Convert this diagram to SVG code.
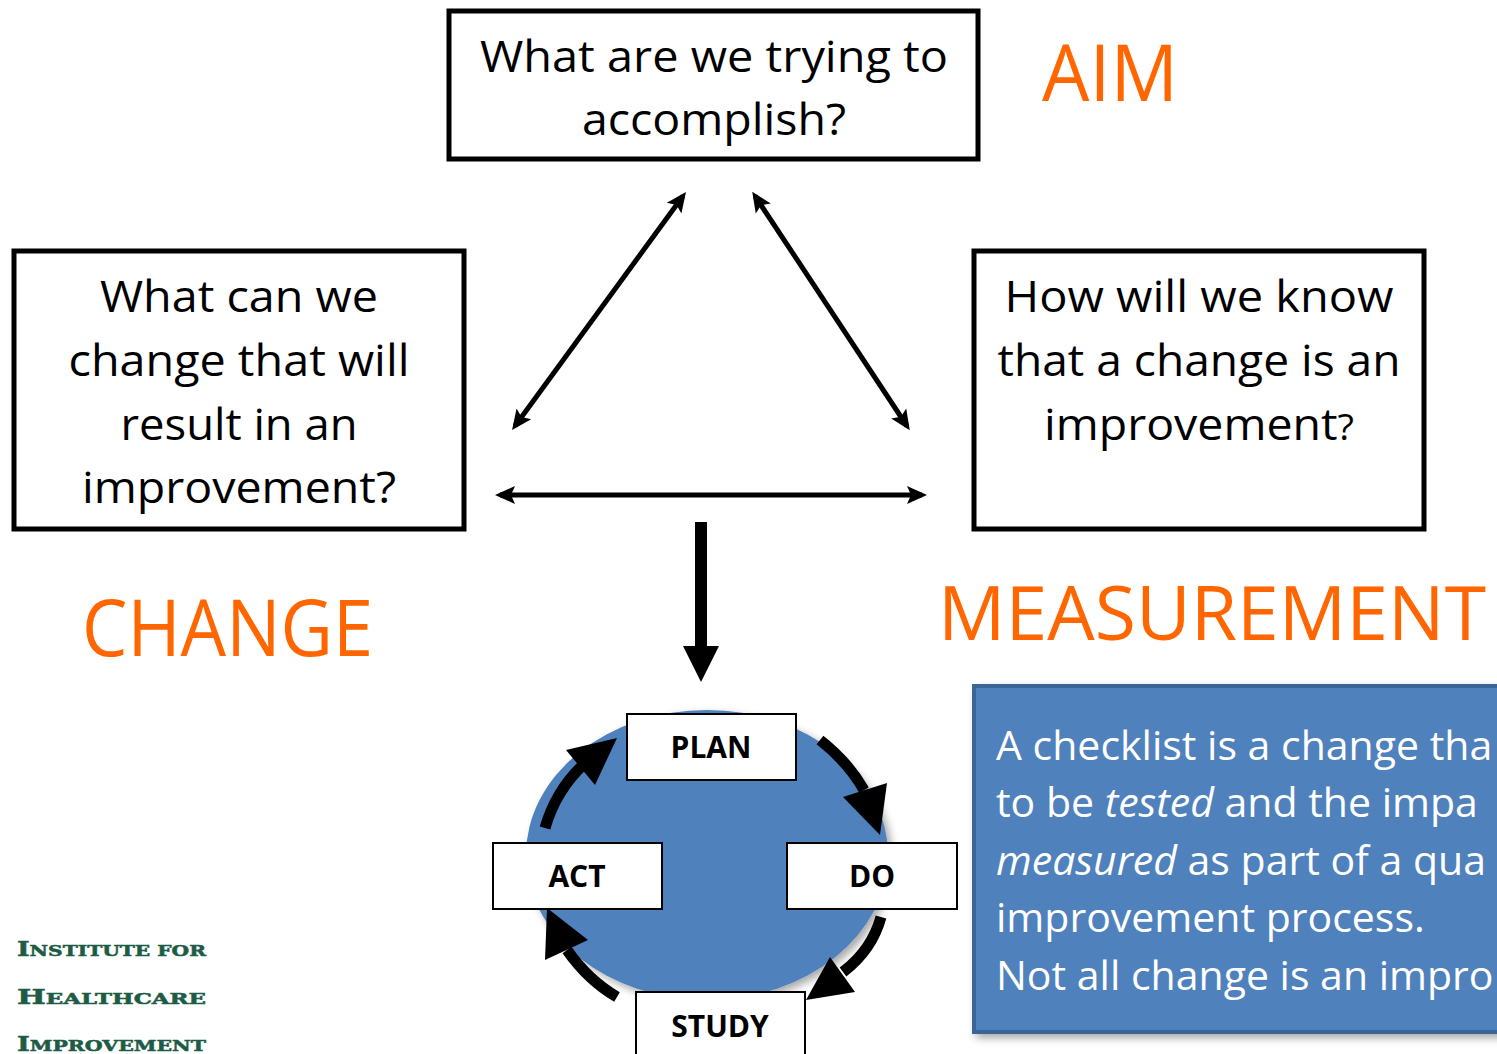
<svg xmlns="http://www.w3.org/2000/svg" width="1497" height="1054" viewBox="0 0 1497 1054">
<style>
.q{font-family:"Open Sans","Liberation Sans",sans-serif;font-size:44px;fill:#000;text-anchor:middle}
.big{font-family:"Open Sans","Liberation Sans",sans-serif;font-size:78px;fill:#FF6600}
.box{fill:#fff;stroke:#000;stroke-width:5}
.pbox{fill:#fff;stroke:#000;stroke-width:2}
.pl{font-family:"Open Sans","Liberation Sans",sans-serif;font-size:30px;font-weight:bold;fill:#000;text-anchor:middle}
.bt{font-family:"Open Sans","Liberation Sans",sans-serif;font-size:41px;fill:#fff}
.logo{font-family:"DejaVu Serif","Liberation Serif",serif;font-size:20px;font-weight:bold;fill:#1E5B45;stroke:#1E5B45;stroke-width:0.5}
.sc{font-size:15px}
.conn{stroke:#000;stroke-width:5;fill:none}
.arc{stroke:#000;stroke-width:11;fill:none}
</style>
<defs>
<marker id="ah" viewBox="0 0 20 20" refX="15" refY="10" markerWidth="20" markerHeight="20" markerUnits="userSpaceOnUse" orient="auto-start-reverse">
<path d="M0,1 L20,10 L0,19 L4,10 Z" fill="#000"/>
</marker>
<filter id="sh" x="-20%" y="-20%" width="140%" height="140%">
<feGaussianBlur in="SourceAlpha" stdDeviation="4"/>
<feOffset dx="4" dy="4" result="b"/>
<feComponentTransfer><feFuncA type="linear" slope="0.35"/></feComponentTransfer>
<feMerge><feMergeNode/><feMergeNode in="SourceGraphic"/></feMerge>
</filter>
</defs>
<rect width="1497" height="1054" fill="#fff"/>

<g id="aim-box">
<rect class="box" x="449" y="11" width="529" height="148"/>
<text class="q" x="714" y="72" textLength="468" lengthAdjust="spacingAndGlyphs">What are we trying to</text>
<text class="q" x="714" y="135" textLength="264" lengthAdjust="spacingAndGlyphs">accomplish?</text>
</g>
<g id="aim-label"><text class="big" x="1042" y="101" textLength="136" lengthAdjust="spacingAndGlyphs">AIM</text></g>

<g id="change-box">
<rect class="box" x="14" y="251" width="450" height="278"/>
<text class="q" x="239" y="312" textLength="278" lengthAdjust="spacingAndGlyphs">What can we</text>
<text class="q" x="239" y="376" textLength="341" lengthAdjust="spacingAndGlyphs">change that will</text>
<text class="q" x="239" y="440" textLength="237" lengthAdjust="spacingAndGlyphs">result in an</text>
<text class="q" x="239" y="503" textLength="314" lengthAdjust="spacingAndGlyphs">improvement?</text>
</g>
<g id="change-label"><text class="big" x="82" y="656" textLength="291" lengthAdjust="spacingAndGlyphs">CHANGE</text></g>

<g id="measure-box">
<rect class="box" x="974" y="251" width="450" height="278"/>
<text class="q" x="1199" y="312" textLength="389" lengthAdjust="spacingAndGlyphs">How will we know</text>
<text class="q" x="1199" y="376" textLength="403" lengthAdjust="spacingAndGlyphs">that a change is an</text>
<text class="q" x="1199" y="440" textLength="310" lengthAdjust="spacingAndGlyphs">improvement<tspan font-size="36">?</tspan></text>
</g>
<g id="measure-label"><text class="big" x="938" y="640" font-size="75" style="font-size:75px" textLength="548" lengthAdjust="spacingAndGlyphs">MEASUREMENT</text></g>

<g id="connectors">
<line class="conn" x1="515" y1="426" x2="683" y2="196" marker-start="url(#ah)" marker-end="url(#ah)"/>
<line class="conn" x1="755" y1="196" x2="907" y2="426" marker-start="url(#ah)" marker-end="url(#ah)"/>
<line class="conn" x1="500" y1="495" x2="922" y2="495" marker-start="url(#ah)" marker-end="url(#ah)"/>
<rect x="695" y="522" width="12" height="126" fill="#000"/>
<polygon points="683,646 719,646 701,682" fill="#000"/>
</g>

<g id="pdsa-cycle">
<ellipse cx="707" cy="855" rx="181" ry="145" fill="#4F81BD" filter="url(#sh)"/>
<path class="arc" d="M545,828 Q556,790 584,764"/>
<polygon points="566,750 617,738 595,785" fill="#000"/>
<path class="arc" d="M820,740 Q848,762 864,790"/>
<polygon points="843,797 887,783 880,835" fill="#000"/>
<path class="arc" d="M881,917 Q872,950 843,972"/>
<polygon points="830,957 855,992 806,1000" fill="#000"/>
<path class="arc" d="M617,997 Q588,980 567,950"/>
<polygon points="545,960 588,940 547,908" fill="#000"/>
</g>

<g id="plan"><rect class="pbox" x="627" y="714" width="169" height="66"/><text class="pl" x="711" y="758">PLAN</text></g>
<g id="act"><rect class="pbox" x="493" y="843" width="169" height="66"/><text class="pl" x="577" y="887">ACT</text></g>
<g id="do"><rect class="pbox" x="787" y="843" width="170" height="66"/><text class="pl" x="872" y="887">DO</text></g>
<g id="study"><rect class="pbox" x="636" y="992" width="169" height="70"/><text class="pl" x="720" y="1037">STUDY</text></g>

<g id="note">
<rect x="974" y="686" width="540" height="346" fill="#4F81BD" stroke="#3A6595" stroke-width="4" filter="url(#sh)"/>
<text class="bt" x="996" y="760">A checklist is a change tha</text>
<text class="bt" x="996" y="817">to be <tspan font-style="italic">tested</tspan> and the impa</text>
<text class="bt" x="996" y="875"><tspan font-style="italic">measured</tspan> as part of a qua</text>
<text class="bt" x="996" y="932">improvement process.</text>
<text class="bt" x="996" y="990">Not all change is an impro</text>
</g>

<g id="logo">
<text class="logo" x="17" y="956" textLength="189" lengthAdjust="spacingAndGlyphs">I<tspan class="sc">NSTITUTE FOR</tspan></text>
<text class="logo" x="17" y="1004" textLength="189" lengthAdjust="spacingAndGlyphs">H<tspan class="sc">EALTHCARE</tspan></text>
<text class="logo" x="17" y="1051" textLength="189" lengthAdjust="spacingAndGlyphs">I<tspan class="sc">MPROVEMENT</tspan></text>
</g>
</svg>
